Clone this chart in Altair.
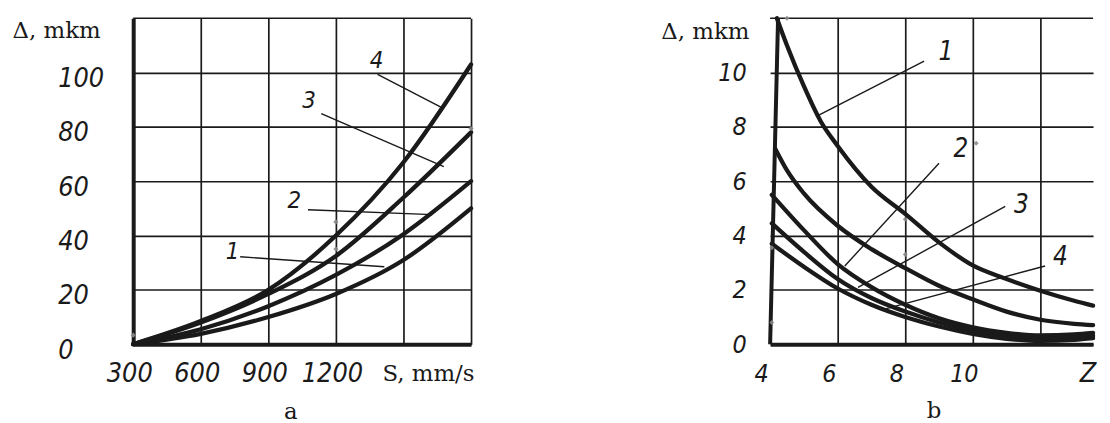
import altair as alt
import pandas as pd

# ---------------- panel a : deviation vs feed rate S ----------------
A_S = [300, 600, 900, 1200, 1500, 1800]
A_C1 = [0, 3.8, 10, 18.5, 31, 50]
A_C2 = [0, 5.5, 14, 25.5, 40.5, 60]
A_C3 = [0, 8, 18.5, 32.5, 54, 78]
A_C4 = [0, 8.5, 20, 40, 67, 103]
A_X_TICKS = [300, 600, 900, 1200, 1500, 1800]
A_Y_TICKS = [0, 20, 40, 60, 80, 100]
A_Y_TOP = [120]
A_LABELS = ["1", "2", "3", "4"]
A_LABEL_X = [741, 1015, 1081, 1380]
A_LABEL_Y = [34, 52.7, 89.6, 104.2]
A_LEAD_X1 = [775, 1076, 1135, 1385]
A_LEAD_Y1 = [32.2, 49.5, 84.9, 99.3]
A_LEAD_X2 = [1415, 1628, 1679, 1679]
A_LEAD_Y2 = [28.5, 47.7, 65.4, 86.7]
A_MARK_X = [300, 1200, 1200, 1800]
A_MARK_Y = [3.3, 45, 35, 79.4]

# ---------------- panel b : deviation vs Z ----------------
B_Z1 = [4.2, 4.5, 5, 5.5, 6, 7, 8, 9, 10, 11, 12, 13, 13.56]
B_C1 = [12.0, 11.0, 9.5, 8.2, 7.3, 5.8, 4.8, 3.75, 2.9, 2.4, 1.97, 1.6, 1.42]
B_Z2 = [4.15, 4.5, 5, 6, 7, 8, 9, 10, 11, 12, 13, 13.56]
B_C2 = [7.2, 6.4, 5.55, 4.36, 3.5, 2.8, 2.15, 1.65, 1.2, 0.9, 0.75, 0.7]
B_Z = [4.05, 5, 6, 7, 8, 9, 10, 11, 12, 13, 13.56]
B_C3 = [5.5, 4.2, 2.95, 2.1, 1.45, 0.95, 0.62, 0.42, 0.32, 0.36, 0.42]
B_C4 = [4.45, 3.4, 2.4, 1.7, 1.2, 0.8, 0.5, 0.3, 0.2, 0.25, 0.31]
B_C5 = [3.7, 2.85, 2.05, 1.45, 1.0, 0.65, 0.38, 0.2, 0.12, 0.16, 0.22]
B_X_TICKS = [4, 6, 8, 10, 12]
B_Y_TICKS = [0, 2, 4, 6, 8, 10]
B_Y_TOP = [12]
B_LABELS = ["1", "2", "3", "4"]
B_LABEL_X = [9.2, 9.65, 11.44, 12.59]
B_LABEL_Y = [10.76, 7.2, 5.12, 3.22]
B_LEAD_X1 = [8.56, 9.0, 10.96, 12.14]
B_LEAD_Y1 = [10.42, 6.66, 5.07, 2.88]
B_LEAD_X2 = [5.37, 6.21, 6.6, 7.33]
B_LEAD_Y2 = [8.39, 2.88, 2.09, 1.27]
B_MARK_X = [4.5, 10.1, 8, 8, 4.05, 4.05]
B_MARK_Y = [12, 7.4, 4.6, 3.3, 0.8, 3.55]
B_AXIS_X = [4.0]
B_AXIS_X2 = [4.235]
B_AXIS_Y = [0]
B_AXIS_Y2 = [12]

TICK_FONT = "Liberation Sans Narrow, DejaVu Sans Condensed, Liberation Sans, sans-serif"
SERIF = "DejaVu Serif"
INK = "#1a1a1a"


def long_df(xs_list, ys_list, names):
    rows = []
    for xs, ys, n in zip(xs_list, ys_list, names):
        for x, y in zip(xs, ys):
            rows.append({"x": x, "y": y, "series": n})
    return pd.DataFrame(rows)


# ---------- panel a ----------
a_curves = long_df([A_S] * 4, [A_C1, A_C2, A_C3, A_C4], ["1", "2", "3", "4"])
a_scale_x = alt.Scale(domain=[300, 1800], nice=False, zero=False)
a_scale_y = alt.Scale(domain=[0, 120], nice=False)

a_x_axis = alt.Axis(
    values=A_X_TICKS, format="d", labelExpr="datum.value > 1200 ? '' : datum.label",
    grid=True, gridColor=INK, gridWidth=1.7, domainColor=INK, domainWidth=4,
    ticks=False, tickSize=0, labelFont=TICK_FONT, labelFontSize=27, labelFontStyle="italic",
    labelColor=INK, labelPadding=30, labelBaseline="middle", labelOffset=-4,
    labelFlush=False, labelOverlap=False,
    title="S, mm/s", titleFont=SERIF, titleFontSize=23, titleFontWeight="normal",
    titleColor=INK, titleX=343, titleY=30, titleAlign="right", titleBaseline="middle",
)
a_y_axis = alt.Axis(
    values=A_Y_TICKS,
    grid=True, gridColor=INK, gridWidth=1.7, domainColor=INK, domainWidth=4,
    ticks=False, tickSize=0, labelFont=TICK_FONT, labelFontSize=27, labelFontStyle="italic",
    labelColor=INK, labelPadding=76, labelAlign="left", labelBaseline="middle", labelOffset=6,
    labelOverlap=False,
    title="Δ, mkm", titleFont=SERIF, titleFontSize=23, titleFontWeight="normal",
    titleColor=INK, titleAngle=0, titleX=-122, titleY=12, titleAlign="left", titleBaseline="middle",
)
AX = alt.X("x:Q", scale=a_scale_x, axis=a_x_axis)
AY = alt.Y("y:Q", scale=a_scale_y, axis=a_y_axis)

a_top = alt.Chart(pd.DataFrame({"y": A_Y_TOP})).mark_rule(strokeWidth=1.7, color=INK).encode(y=AY)

a_lines = alt.Chart(a_curves).mark_line(
    interpolate="monotone", strokeWidth=4.3, color=INK, strokeCap="round"
).encode(x=AX, y=AY, detail="series:N")

a_marks = alt.Chart(pd.DataFrame({"x": A_MARK_X, "y": A_MARK_Y})).mark_point(
    shape="diamond", filled=True, size=28, color="#8a8a8a", opacity=0.9
).encode(x=AX, y=AY)

a_leads = alt.Chart(pd.DataFrame({"x": A_LEAD_X1, "y": A_LEAD_Y1, "x2": A_LEAD_X2, "y2": A_LEAD_Y2})).mark_rule(
    strokeWidth=1.4, color=INK
).encode(x=AX, y=AY, x2="x2:Q", y2="y2:Q")

a_text = alt.Chart(pd.DataFrame({"x": A_LABEL_X, "y": A_LABEL_Y, "t": A_LABELS})).mark_text(
    font=TICK_FONT, fontSize=24, fontStyle="italic", color=INK, align="center", baseline="middle"
).encode(x=AX, y=AY, text="t:N")

a_caption = alt.Chart(pd.DataFrame({"x": [1000], "t": ["a"]})).mark_text(
    font=SERIF, fontSize=23, color=INK, align="center", baseline="middle"
).encode(x=AX, y=alt.value(396), text="t:N")

panel_a = alt.layer(a_top, a_lines, a_leads, a_marks, a_text, a_caption).properties(width=340, height=328)

# ---------- panel b ----------
b_curves = long_df([B_Z1, B_Z2, B_Z, B_Z, B_Z], [B_C1, B_C2, B_C3, B_C4, B_C5], ["1", "2", "3", "4", "5"])
b_scale_x = alt.Scale(domain=[4, 13.56], nice=False, zero=False)
b_scale_y = alt.Scale(domain=[0, 12], nice=False)

b_x_axis = alt.Axis(
    values=B_X_TICKS, format="d", labelExpr="datum.value > 10 ? '' : datum.label",
    grid=True, gridColor=INK, gridWidth=1.7,
    gridOpacity={"condition": {"test": "datum.value === 4", "value": 0}, "value": 1},
    domainColor=INK, domainWidth=4,
    ticks=False, tickSize=0, labelFont=TICK_FONT, labelFontSize=25, labelFontStyle="italic",
    labelColor=INK, labelPadding=30, labelBaseline="middle", labelOffset=-9,
    labelFlush=False, labelOverlap=False,
    title="Z", titleFont=TICK_FONT, titleFontSize=27, titleFontStyle="italic", titleFontWeight="normal",
    titleColor=INK, titleX=311, titleY=30, titleAlign="left", titleBaseline="middle",
)
b_y_axis = alt.Axis(
    values=B_Y_TICKS,
    grid=True, gridColor=INK, gridWidth=1.7, domain=False,
    ticks=False, tickSize=0, labelFont=TICK_FONT, labelFontSize=25, labelFontStyle="italic",
    labelColor=INK, labelPadding=24, labelAlign="right", labelBaseline="middle",
    labelOverlap=False,
    title="Δ, mkm", titleFont=SERIF, titleFontSize=23, titleFontWeight="normal",
    titleColor=INK, titleAngle=0, titleX=-110, titleY=13, titleAlign="left", titleBaseline="middle",
)
BX = alt.X("x:Q", scale=b_scale_x, axis=b_x_axis)
BY = alt.Y("y:Q", scale=b_scale_y, axis=b_y_axis)

b_top = alt.Chart(pd.DataFrame({"y": B_Y_TOP})).mark_rule(strokeWidth=1.7, color=INK).encode(y=BY)

b_lines = alt.Chart(b_curves).mark_line(
    interpolate="monotone", strokeWidth=4.3, color=INK, strokeCap="round"
).encode(x=BX, y=BY, detail="series:N")

b_axis_rule = alt.Chart(pd.DataFrame({"x": B_AXIS_X, "x2": B_AXIS_X2, "y": B_AXIS_Y, "y2": B_AXIS_Y2})).mark_rule(
    strokeWidth=4, color=INK
).encode(x=BX, y=BY, x2="x2:Q", y2="y2:Q")

b_marks = alt.Chart(pd.DataFrame({"x": B_MARK_X, "y": B_MARK_Y})).mark_point(
    shape="diamond", filled=True, size=24, color="#8a8a8a", opacity=0.9
).encode(x=BX, y=BY)

b_leads = alt.Chart(pd.DataFrame({"x": B_LEAD_X1, "y": B_LEAD_Y1, "x2": B_LEAD_X2, "y2": B_LEAD_Y2})).mark_rule(
    strokeWidth=1.4, color=INK
).encode(x=BX, y=BY, x2="x2:Q", y2="y2:Q")

b_text = alt.Chart(pd.DataFrame({"x": B_LABEL_X, "y": B_LABEL_Y, "t": B_LABELS})).mark_text(
    font=TICK_FONT, fontSize=26, fontStyle="italic", color=INK, align="center", baseline="middle"
).encode(x=BX, y=BY, text="t:N")

b_caption = alt.Chart(pd.DataFrame({"x": [8.85], "t": ["b"]})).mark_text(
    font=SERIF, fontSize=23, color=INK, align="center", baseline="middle"
).encode(x=BX, y=alt.value(395), text="t:N")

panel_b = alt.layer(b_top, b_lines, b_axis_rule, b_leads, b_marks, b_text, b_caption).properties(width=325, height=328)

chart = alt.hconcat(panel_a, panel_b, spacing=301, bounds="flush").properties(
    padding={"left": 4, "top": 0, "right": 0, "bottom": 0}, background="white"
).configure_view(stroke=None)

chart.save("out.html", embed_options={"renderer": "svg", "actions": False})
